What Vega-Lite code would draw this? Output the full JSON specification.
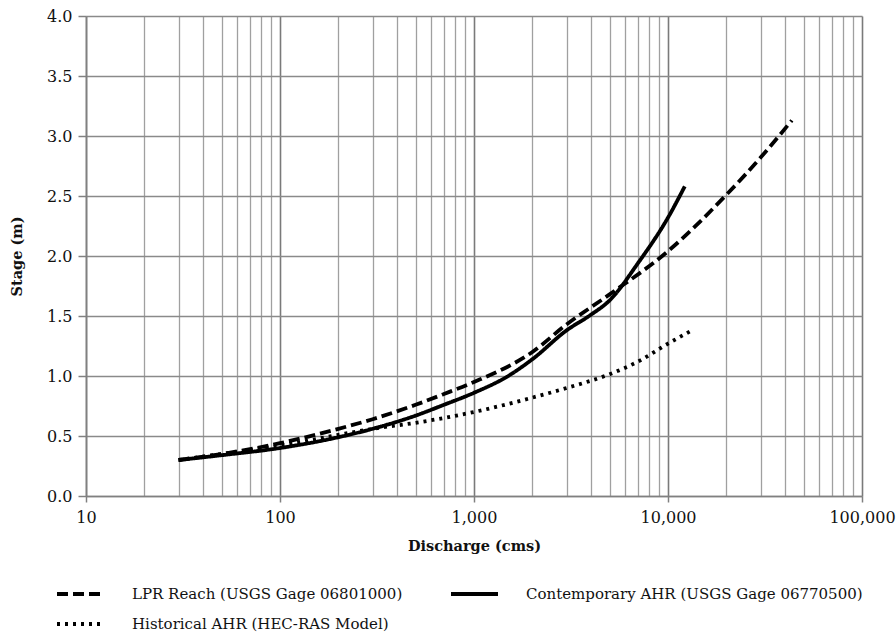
{
  "$schema": "https://vega.github.io/schema/vega-lite/v6.json",
  "autosize": {"type": "none"},
  "padding": {"left": 86, "top": 16, "right": 34, "bottom": 137},
  "width": 776,
  "height": 480,
  "background": "white",
  "config": {
    "view": {"stroke": null},
    "font": "DejaVu Serif",
    "axis": {"labelFont": "DejaVu Serif", "titleFont": "DejaVu Serif", "labelColor": "#111", "titleColor": "#111"},
    "legend": {"labelFont": "DejaVu Serif"}
  },
  "data": {
    "values": [
      {"series": "LPR Reach (USGS Gage 06801000)", "q": 30, "stage": 0.30},
      {"series": "LPR Reach (USGS Gage 06801000)", "q": 50, "stage": 0.35},
      {"series": "LPR Reach (USGS Gage 06801000)", "q": 100, "stage": 0.44},
      {"series": "LPR Reach (USGS Gage 06801000)", "q": 200, "stage": 0.56},
      {"series": "LPR Reach (USGS Gage 06801000)", "q": 300, "stage": 0.64},
      {"series": "LPR Reach (USGS Gage 06801000)", "q": 500, "stage": 0.76},
      {"series": "LPR Reach (USGS Gage 06801000)", "q": 700, "stage": 0.85},
      {"series": "LPR Reach (USGS Gage 06801000)", "q": 1000, "stage": 0.95},
      {"series": "LPR Reach (USGS Gage 06801000)", "q": 2000, "stage": 1.20},
      {"series": "LPR Reach (USGS Gage 06801000)", "q": 3000, "stage": 1.43},
      {"series": "LPR Reach (USGS Gage 06801000)", "q": 5000, "stage": 1.68},
      {"series": "LPR Reach (USGS Gage 06801000)", "q": 10000, "stage": 2.04},
      {"series": "LPR Reach (USGS Gage 06801000)", "q": 20000, "stage": 2.51},
      {"series": "LPR Reach (USGS Gage 06801000)", "q": 30000, "stage": 2.82},
      {"series": "LPR Reach (USGS Gage 06801000)", "q": 43500, "stage": 3.13},
      {"series": "Contemporary AHR (USGS Gage 06770500)", "q": 30, "stage": 0.30},
      {"series": "Contemporary AHR (USGS Gage 06770500)", "q": 50, "stage": 0.34},
      {"series": "Contemporary AHR (USGS Gage 06770500)", "q": 100, "stage": 0.40},
      {"series": "Contemporary AHR (USGS Gage 06770500)", "q": 200, "stage": 0.49},
      {"series": "Contemporary AHR (USGS Gage 06770500)", "q": 300, "stage": 0.56},
      {"series": "Contemporary AHR (USGS Gage 06770500)", "q": 500, "stage": 0.67},
      {"series": "Contemporary AHR (USGS Gage 06770500)", "q": 700, "stage": 0.76},
      {"series": "Contemporary AHR (USGS Gage 06770500)", "q": 1000, "stage": 0.86},
      {"series": "Contemporary AHR (USGS Gage 06770500)", "q": 1500, "stage": 1.00},
      {"series": "Contemporary AHR (USGS Gage 06770500)", "q": 2000, "stage": 1.14},
      {"series": "Contemporary AHR (USGS Gage 06770500)", "q": 3000, "stage": 1.38},
      {"series": "Contemporary AHR (USGS Gage 06770500)", "q": 4000, "stage": 1.51},
      {"series": "Contemporary AHR (USGS Gage 06770500)", "q": 5000, "stage": 1.63},
      {"series": "Contemporary AHR (USGS Gage 06770500)", "q": 7000, "stage": 1.94},
      {"series": "Contemporary AHR (USGS Gage 06770500)", "q": 10000, "stage": 2.32},
      {"series": "Contemporary AHR (USGS Gage 06770500)", "q": 12200, "stage": 2.58},
      {"series": "Historical AHR (HEC-RAS Model)", "q": 30, "stage": 0.30},
      {"series": "Historical AHR (HEC-RAS Model)", "q": 50, "stage": 0.35},
      {"series": "Historical AHR (HEC-RAS Model)", "q": 100, "stage": 0.42},
      {"series": "Historical AHR (HEC-RAS Model)", "q": 200, "stage": 0.51},
      {"series": "Historical AHR (HEC-RAS Model)", "q": 300, "stage": 0.56},
      {"series": "Historical AHR (HEC-RAS Model)", "q": 500, "stage": 0.61},
      {"series": "Historical AHR (HEC-RAS Model)", "q": 700, "stage": 0.65},
      {"series": "Historical AHR (HEC-RAS Model)", "q": 1000, "stage": 0.70},
      {"series": "Historical AHR (HEC-RAS Model)", "q": 2000, "stage": 0.82},
      {"series": "Historical AHR (HEC-RAS Model)", "q": 3000, "stage": 0.90},
      {"series": "Historical AHR (HEC-RAS Model)", "q": 5000, "stage": 1.015},
      {"series": "Historical AHR (HEC-RAS Model)", "q": 7000, "stage": 1.12},
      {"series": "Historical AHR (HEC-RAS Model)", "q": 10000, "stage": 1.27},
      {"series": "Historical AHR (HEC-RAS Model)", "q": 13100, "stage": 1.375}
    ]
  },
  "mark": {"type": "line", "color": "black", "strokeWidth": 3.8, "interpolate": "monotone", "clip": true},
  "encoding": {
    "x": {
      "field": "q", "type": "quantitative",
      "scale": {"type": "log", "domain": [10, 100000], "nice": false},
      "axis": {
        "title": "Discharge (cms)",
        "titleFontSize": 14.5, "titleFontWeight": "bold", "titlePadding": 14,
        "values": [10,20,30,40,50,60,70,80,90,100,200,300,400,500,600,700,800,900,1000,2000,3000,4000,5000,6000,7000,8000,9000,10000,20000,30000,40000,50000,60000,70000,80000,90000,100000],
        "labelExpr": "indexof([10,100,1000,10000,100000], datum.value) >= 0 ? format(datum.value, ',') : ''",
        "labelFontSize": 16, "labelOverlap": false, "labelFlush": false, "labelPadding": 7,
        "tickSize": 6, "tickColor": "#808080", "tickWidth": 1.5,
        "tickOpacity": {"condition": {"test": "indexof([10,100,1000,10000,100000], datum.value) >= 0", "value": 1}, "value": 0},
        "grid": true,
        "gridColor": {"condition": {"test": "indexof([10,100,1000,10000,100000], datum.value) >= 0", "value": "#7a7a7a"}, "value": "#a0a0a0"},
        "gridWidth": {"condition": {"test": "indexof([10,100,1000,10000,100000], datum.value) >= 0", "value": 1.6}, "value": 1.3},
        "domainColor": "#808080", "domainWidth": 1.6
      }
    },
    "y": {
      "field": "stage", "type": "quantitative",
      "scale": {"domain": [0, 4], "nice": false, "zero": true},
      "axis": {
        "title": "Stage (m)",
        "titleFontSize": 14.5, "titleFontWeight": "bold", "titlePadding": 22,
        "values": [0, 0.5, 1, 1.5, 2, 2.5, 3, 3.5, 4],
        "format": ".1f",
        "labelFontSize": 16, "labelFlush": false, "labelPadding": 6,
        "tickSize": 8, "tickColor": "#808080", "tickWidth": 1.5,
        "grid": true, "gridColor": "#8a8a8a", "gridWidth": 1.5,
        "domainColor": "#808080", "domainWidth": 1.6
      }
    },
    "strokeDash": {
      "field": "series", "type": "nominal",
      "scale": {
        "domain": ["LPR Reach (USGS Gage 06801000)", "Contemporary AHR (USGS Gage 06770500)", "Historical AHR (HEC-RAS Model)"],
        "range": [[11, 5], [1, 0], [3, 5]]
      },
      "legend": {
        "title": null,
        "orient": "none",
        "legendX": -17.5,
        "legendY": 566,
        "direction": "horizontal",
        "columns": 2,
        "columnPadding": 40,
        "rowPadding": 10,
        "padding": 0,
        "symbolType": "M-2.35,0H2.35",
        "symbolSize": 400,
        "symbolStrokeWidth": 3.8,
        "symbolStrokeColor": "black",
        "symbolFillColor": "transparent",
        "labelFontSize": 15,
        "labelColor": "#111",
        "labelOffset": 39.5,
        "labelLimit": 400
      }
    }
  }
}
